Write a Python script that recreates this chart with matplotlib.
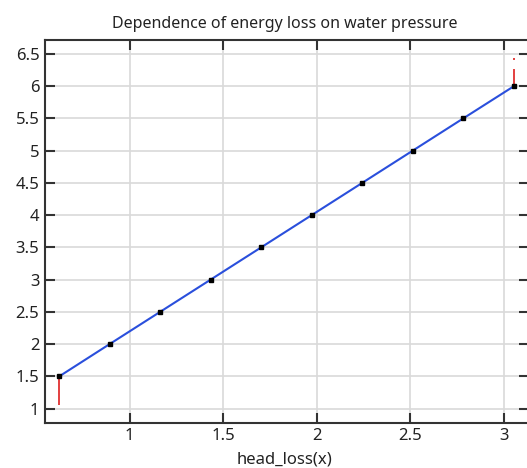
import matplotlib
matplotlib.use("Agg")
import matplotlib.pyplot as plt
import numpy as np

plt.rcParams['font.family'] = ['Noto Sans', 'DejaVu Sans']

head_loss = [0.624, 0.893, 1.163, 1.433, 1.703, 1.973, 2.243, 2.513, 2.783, 3.054]
values = [1.5, 2.0, 2.5, 3.0, 3.5, 4.0, 4.5, 5.0, 5.5, 6.0]
# error bars (x, y from, y to)
err_x = [0.624, 3.054, 3.054]
err_lo = [1.05, 6.0, 6.40]
err_hi = [1.5, 6.27, 6.44]

xticks = [1, 1.5, 2, 2.5, 3]
yticks = [1, 1.5, 2, 2.5, 3, 3.5, 4, 4.5, 5, 5.5, 6, 6.5]
ytick_labels = ['1', '1.5', '2', '2.5', '3', '3.5', '4', '4.5', '5', '5.5', '6', '6.5']
xtick_labels = ['1', '1.5', '2', '2.5', '3']

fig = plt.figure(figsize=(5.27, 4.68), dpi=100)
ax = fig.add_axes([45/527, 45.5/468, 484/527, 382.5/468])

ax.vlines(err_x, err_lo, err_hi, colors='#e03030', linewidth=1.3, zorder=3)
ax.plot(head_loss, values, color='#2a4fdc', linewidth=1.5, zorder=4)
ax.plot(head_loss, values, linestyle='none', marker='s', markersize=3.5,
        color='black', zorder=5)

ax.set_xlim(0.548, 3.134)
ax.set_ylim(0.785, 6.715)
ax.set_xticks(xticks)
ax.set_xticklabels(xtick_labels)
ax.set_yticks(yticks)
ax.set_yticklabels(ytick_labels)

ax.grid(True, color='#d9d9d9', linewidth=1.2)
ax.set_axisbelow(True)
for s in ax.spines.values():
    s.set_color('#333333')
    s.set_linewidth(1.5)
ax.tick_params(direction='in', length=7, width=1.5, color='#333333',
               top=True, right=True, labelsize=12, labelcolor='#222222', pad=4)

ax.set_title('Dependence of energy loss on water pressure', fontsize=11.5,
             color='#222222', pad=8.5, x=0.495)
ax.set_xlabel('head_loss(x)', fontsize=12, color='#222222', labelpad=5)
ax.xaxis.label.set_x(0.495)

fig.savefig('out.png', dpi=100)
